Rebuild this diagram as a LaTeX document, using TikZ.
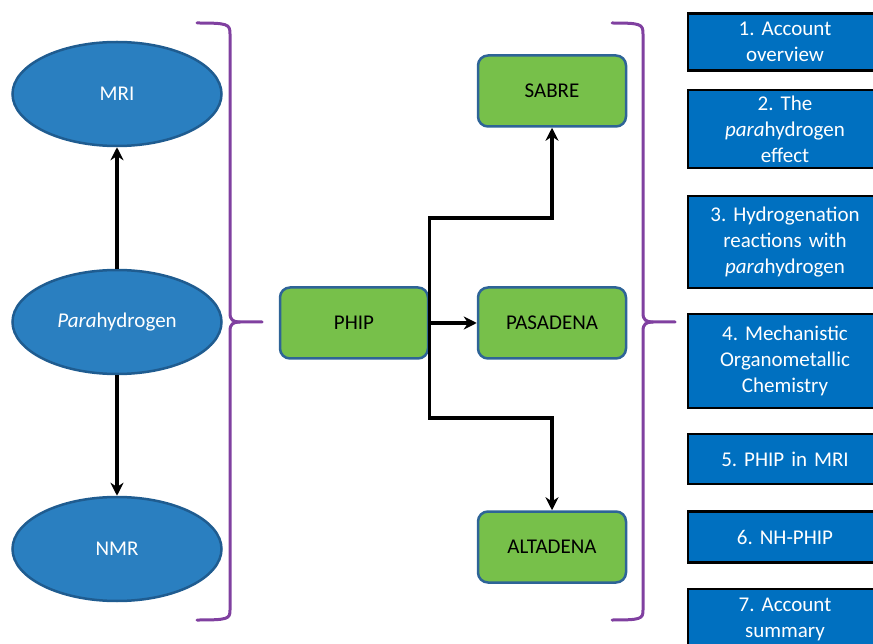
\documentclass[tikz,border=0pt]{standalone}
\usepackage{fontspec}
\setmainfont{Carlito}
\usepackage{tikz}
\usetikzlibrary{arrows.meta, shapes.geometric}
\definecolor{ellfill}{HTML}{2A7FC0}
\definecolor{elldraw}{HTML}{1F5C90}
\definecolor{boxfill}{HTML}{77C04A}
\definecolor{boxdraw}{HTML}{2E6497}
\definecolor{secfill}{HTML}{0070C0}
\definecolor{bracecol}{HTML}{8040A0}
\frenchspacing

\begin{document}
\begin{tikzpicture}[
    x=1pt, y=-1pt,
    font=\fontsize{21}{26}\selectfont,
    % Define a style for the blue ellipses
    topic/.style={ellipse, draw=elldraw, fill=ellfill, line width=2.5pt, text=white,
        inner sep=0pt, minimum width=209pt, minimum height=104pt},
    % Define a style for the green boxes
    method/.style={rectangle, rounded corners=10pt, draw=boxdraw, fill=boxfill, line width=2.5pt,
        inner sep=0pt, minimum width=148pt, minimum height=71pt},
    % Define a style for the section boxes on the right
    section/.style={rectangle, draw=black, fill=secfill, line width=2.5pt, text=white,
        inner sep=0pt, minimum width=194pt, text width=190pt, align=center},
    arrow/.style={line width=3.2pt, -{Stealth[length=13pt, width=13pt]}},
    bracket/.style={draw=bracecol, line width=3pt, line cap=round}
]
    \useasboundingbox (0,0) rectangle (873,644);

    % Left column: ellipses
    \node[topic] (mri) at (117,94) {MRI};
    \node[topic] (para) at (117,322) {\textit{Para}hydrogen};
    \node[topic] (nmr) at (117,549) {NMR};

    \draw[arrow] (para.north) -- (mri.south);
    \draw[arrow] (para.south) -- (nmr.north);

    % Middle column: green boxes
    \node[method] (phip) at (354,323) {PHIP};
    \node[method] (sabre) at (552,91) {SABRE};
    \node[method] (pasadena) at (552,323) {PASADENA};
    \node[method] (altadena) at (552,547) {ALTADENA};

    \draw[arrow] (phip.east) -- ++(0,-105) -| (sabre.south);
    \draw[arrow] (phip.east) -- ++(0,95) -| (altadena.north);
    \draw[arrow] (phip.east) -- (pasadena.west);

    % Brackets (start x / vertical x / tip x)
    \foreach \sx/\vx/\tx in {197/230/262, 612/643/675} {
        \draw[bracket] (\sx,23) .. controls (\vx-2,23) and (\vx,24) .. (\vx,34) -- (\vx,313)
            .. controls (\vx,320) and (\vx+3,322) .. (\vx+10,322) -- (\tx,322);
        \draw[bracket] (\vx+10,322) .. controls (\vx+3,322) and (\vx,324) .. (\vx,331) -- (\vx,610)
            .. controls (\vx,619) and (\vx-2,620) .. (\sx,620);
    }

    % Right column: sections (name / centre y / height / text)
    \foreach \n/\cy/\h/\txt in {
        1/42/57/{1. Account\\overview},
        2/129/78/{2. The\\\textit{para}hydrogen\\effect},
        3/242/92/{3. Hydrogenation\\reactions with\\\textit{para}hydrogen},
        4/361/94/{4. Mechanistic\\Organometallic\\Chemistry},
        5/459/50/{5. PHIP in MRI},
        6/537/51/{6. NH-PHIP},
        7/619/60/{7. Account\\summary}} {
        \node[section, minimum height=\h pt] (s\n) at (785,\cy) {\txt};
    }
\end{tikzpicture}
\end{document}
